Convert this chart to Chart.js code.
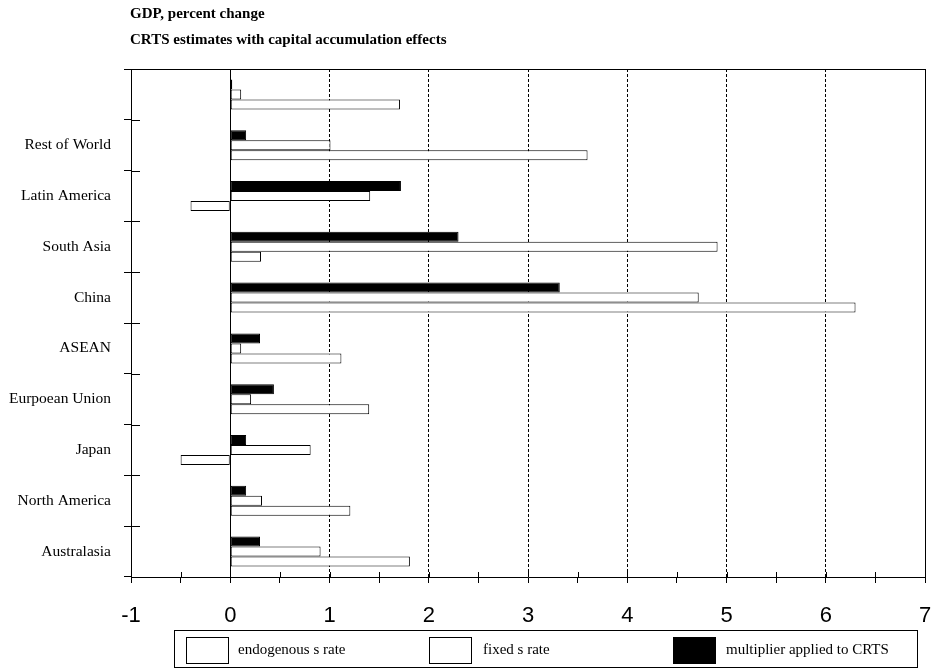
<!DOCTYPE html>
<html>
<head>
<meta charset="utf-8">
<script src="https://cdn.jsdelivr.net/npm/chart.js"></script>
<style>
body { margin: 0; background: #fff; }
#wrap { position: relative; width: 931px; height: 671px; }
#legend { position: absolute; left: 174px; top: 630px; width: 742px; height: 36px; border: 1px solid #000;
  font-family: 'Liberation Serif', serif; font-size: 15px; color: #000; }
.sw { position: absolute; top: 6px; width: 43px; height: 27px; border: 1px solid #000; box-sizing: border-box; }
.lb { position: absolute; top: 0; line-height: 37px; white-space: nowrap; }
</style>
</head>
<body>
<div id="wrap">
  <canvas id="grafico"></canvas>
  <div id="legend">
    <div class="sw" style="left:11px"></div><div class="lb" style="left:63px">endogenous s rate</div>
    <div class="sw" style="left:254px"></div><div class="lb" style="left:308px">fixed s rate</div>
    <div class="sw" style="left:498px;background:#000"></div><div class="lb" style="left:551px">multiplier applied to CRTS</div>
  </div>
</div>
<script>
// regions, listed top to bottom as they appear on the chart
const regioes = ['', 'Rest of World', 'Latin America', 'South Asia', 'China', 'ASEAN',
  'Eurpoean Union', 'Japan', 'North America', 'Australasia'];
const multiplicador = [0.02, 0.16, 1.72, 2.30, 3.32, 0.30, 0.44, 0.16, 0.16, 0.30];
const taxa_fixa = [0.11, 1.01, 1.41, 4.91, 4.72, 0.11, 0.21, 0.81, 0.32, 0.91];
const taxa_endogena = [1.71, 3.60, -0.40, 0.31, 6.30, 1.12, 1.40, -0.50, 1.21, 1.81];
const titulos = ['GDP, percent change', 'CRTS estimates with capital accumulation effects'];

const decor = {
  id: 'decor',
  afterDraw(chart) {
    const c = chart.ctx;
    const area = chart.chartArea;
    const x = chart.scales.x;
    const y = chart.scales.y;
    c.save();
    c.fillStyle = '#000';
    c.font = 'bold 15px "Liberation Serif"';
    c.textBaseline = 'alphabetic';
    c.fillText(titulos[0], 130, 18);
    c.fillText(titulos[1], 130, 44);
    // tick marks also reach into the plot
    c.strokeStyle = '#000';
    c.lineWidth = 1;
    c.beginPath();
    x.ticks.forEach(t => {
      const px = Math.round(x.getPixelForValue(t.value)) + 0.5;
      c.moveTo(px, area.bottom);
      c.lineTo(px, area.bottom - 5);
    });
    const passo = y.getPixelForValue(1) - y.getPixelForValue(0);
    for (let i = 0; i <= regioes.length; i++) {
      const py = Math.round(y.getPixelForValue(0) - passo / 2 + i * passo) + 0.5;
      c.moveTo(area.left, py);
      c.lineTo(area.left + 9, py);
    }
    c.stroke();
    c.restore();
  }
};

const ctx = document.getElementById('grafico');

new Chart(ctx, {
  type: 'bar',
  data: {
    labels: regioes,
    datasets: [{
      label: 'multiplier applied to CRTS',
      data: multiplicador,
      backgroundColor: '#000',
      borderColor: '#000',
      borderWidth: 1,
      borderSkipped: false
    }, {
      label: 'fixed s rate',
      data: taxa_fixa,
      backgroundColor: '#fff',
      borderColor: '#000',
      borderWidth: 1,
      borderSkipped: false
    }, {
      label: 'endogenous s rate',
      data: taxa_endogena,
      backgroundColor: '#fff',
      borderColor: '#000',
      borderWidth: 1,
      borderSkipped: false
    }]
  },
  options: {
    indexAxis: 'y',
    responsive: true,
    maintainAspectRatio: false,
    animation: false,
    categoryPercentage: 0.59,
    barPercentage: 1,
    layout: { padding: { top: 69, right: 6, left: 0, bottom: 0 } },
    plugins: { legend: { display: false }, tooltip: { enabled: false } },
    scales: {
      x: {
        min: -1,
        max: 7,
        afterFit: s => { s.height = 94; s.paddingLeft = 0; s.paddingRight = 0; },
        ticks: {
          stepSize: 0.5,
          autoSkip: false,
          maxRotation: 0,
          padding: 20,
          color: '#000',
          font: { family: 'Liberation Sans', size: 22 },
          callback: v => Number.isInteger(v) ? String(v) : ''
        },
        grid: {
          color: c => (c.tick && Number.isInteger(c.tick.value) && c.tick.value > -1) ? '#000' : 'rgba(0,0,0,0)',
          tickColor: '#000',
          tickLength: 6,
          lineWidth: 1
        },
        border: {
          color: '#000',
          width: 1,
          dash: c => (c.tick && (c.tick.value === 0 || c.tick.value === 7)) ? [] : [3, 2]
        }
      },
      y: {
        afterFit: s => { s.width = 131; s.paddingTop = 0; s.paddingBottom = 0; },
        ticks: {
          padding: 13,
          color: '#000',
          font: { family: 'Liberation Serif', size: 15.5 }
        },
        grid: {
          color: c => c.index === 0 ? '#000' : 'rgba(0,0,0,0)',
          tickColor: '#000',
          tickLength: 7
        },
        border: { color: '#000', width: 1 }
      }
    }
  },
  plugins: [decor]
});
</script>
</body>
</html>
